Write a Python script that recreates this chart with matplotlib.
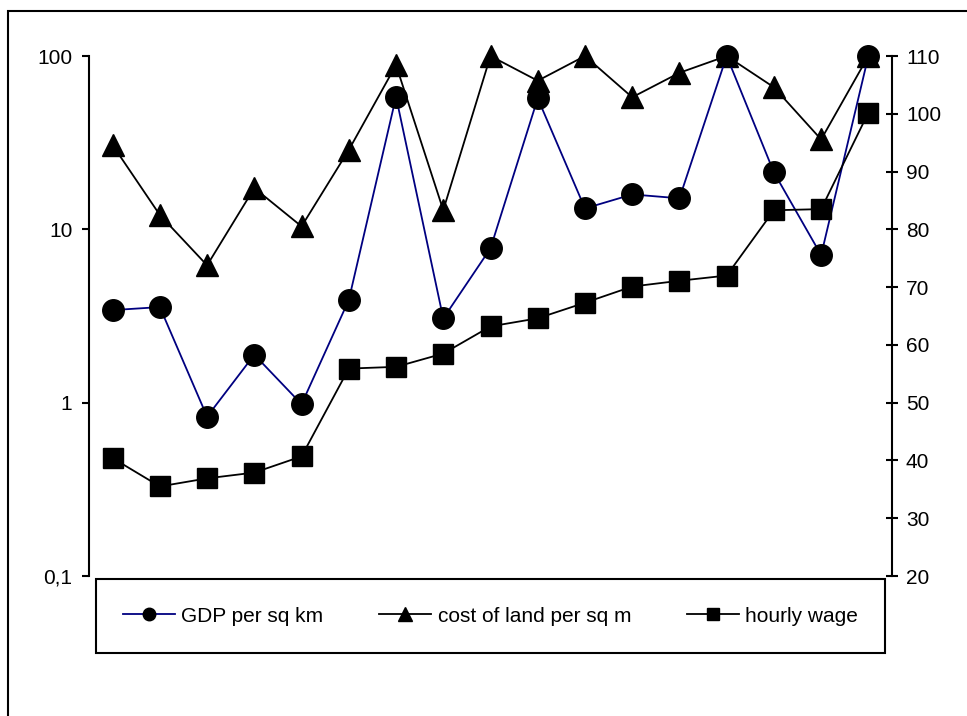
import numpy as np
import matplotlib.pyplot as plt
from matplotlib.lines import Line2D
from matplotlib.patches import Rectangle

plt.rcParams['font.family'] = ['Liberation Sans', 'DejaVu Sans']

# values (17 regions, no x labels)
gdp_per_sqkm = [3.42, 3.56, 0.83, 1.89, 0.98, 3.91, 58.2, 3.06, 7.77,
                57.0, 13.2, 15.9, 15.1, 100, 21.3, 7.1, 100]
land_cost = [30.6, 12.1, 6.2, 17.3, 10.4, 28.7, 88.7, 12.9, 100,
             72.0, 100, 57.8, 80.0, 100, 66.0, 33.0, 100]
hourly_wage = [40.4, 35.5, 36.9, 37.9, 40.7, 55.9, 56.2, 58.5, 63.2,
               64.6, 67.3, 70.1, 71.1, 72.0, 83.3, 83.5, 100.2]
left_ticks = [0.1, 1, 10, 100]
left_labels = ['0,1', '1', '10', '100']
right_ticks = [20, 30, 40, 50, 60, 70, 80, 90, 100, 110]
labels = ['GDP per sq km', 'cost of land per sq m', 'hourly wage']

x = np.arange(len(gdp_per_sqkm))
W, H = 967, 716
fig = plt.figure(figsize=(W / 100, H / 100), dpi=100)

# outer chart-area border (runs off the right and bottom of the picture)
fig.patches.append(Rectangle((8 / W, -0.1), 1.1, 1 - 11 / H + 0.1,
                             transform=fig.transFigure, fill=False,
                             lw=1.5, ec='black'))

ax = fig.add_axes([89 / W, 1 - 576 / H, (892 - 89) / W, (576 - 56) / H])
ax2 = ax.twinx()

ax.plot(x, land_cost, color='black', lw=1.3, marker='^', ms=16.5,
        mfc='black', mec='black', clip_on=False, zorder=3)
ax.plot(x, gdp_per_sqkm, color='#000080', lw=1.3, marker='o', ms=15.5,
        mfc='black', mec='black', clip_on=False, zorder=4)
ax2.plot(x, hourly_wage, color='black', lw=1.3, marker='s', ms=14.5,
         mfc='black', mec='black', clip_on=False, zorder=3)

ax.set_yscale('log')
ax.set_ylim(0.1, 100)
ax.set_xlim(-0.5, len(x) - 0.5)
ax.set_yticks(left_ticks)
ax.set_yticklabels(left_labels)
ax.yaxis.set_minor_locator(plt.NullLocator())
ax.set_xticks([])
ax2.set_ylim(20, 110)
ax2.set_yticks(right_ticks)

for a in (ax, ax2):
    for s in ('top', 'bottom'):
        a.spines[s].set_visible(False)
    a.spines['left'].set_linewidth(1.5)
    a.spines['right'].set_linewidth(1.5)
ax.spines['right'].set_visible(False)
ax2.spines['left'].set_visible(False)
ax.tick_params(axis='y', direction='out', length=5, width=1.5,
               pad=7, labelsize=15)
ax2.tick_params(axis='y', direction='inout', length=8, width=1.5,
                pad=6, labelsize=15)

handles = [
    Line2D([], [], color='#000080', lw=1.3, marker='o', ms=9,
           mfc='black', mec='black'),
    Line2D([], [], color='black', lw=1.3, marker='^', ms=10,
           mfc='black', mec='black'),
    Line2D([], [], color='black', lw=1.3, marker='s', ms=8.5,
           mfc='black', mec='black'),
]
leg = fig.legend(handles, labels, ncol=3, loc='center', mode='expand',
                 bbox_to_anchor=(96 / W, 1 - 652 / H, (885 - 96) / W, 72 / H),
                 fontsize=15, frameon=True, fancybox=False, framealpha=1,
                 handlelength=2.5, handletextpad=0.3, borderaxespad=0,
                 borderpad=1.3)
leg.get_frame().set_edgecolor('black')
leg.get_frame().set_linewidth(1.5)

fig.savefig('out.png', dpi=100)
